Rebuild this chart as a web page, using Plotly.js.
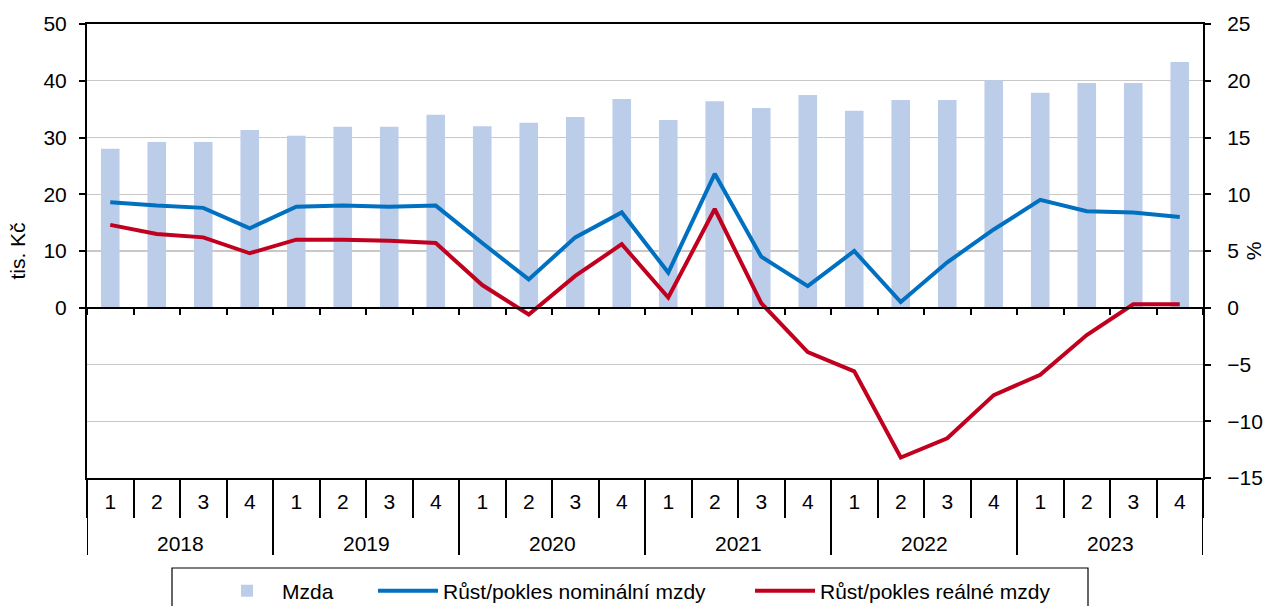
<!DOCTYPE html>
<html><head><meta charset="utf-8">
<script src="https://cdn.plot.ly/plotly-3.0.1.min.js"></script>
<style>html,body{margin:0;padding:0;background:#fff}#chart{width:1265px;height:606px}</style>
</head><body><div id="chart"></div>
<script>
const years = ['2018','2019','2020','2021','2022','2023'];
const quarters = ['1','2','3','4'];
const mzda = [28.0,29.2,29.2,31.3, 30.3,31.9,31.9,34.0, 32.0,32.6,33.6,36.8, 33.1,36.4,35.2,37.5, 34.7,36.6,36.6,40.1, 37.9,39.6,39.6,43.3];
const nominal = [9.3,9.0,8.8,7.0, 8.9,9.0,8.9,9.0, 5.7,2.5,6.2,8.4, 3.1,11.8,4.5,1.9, 5.0,0.5,4.0,6.9, 9.5,8.5,8.4,8.0];
const real = [7.3,6.5,6.2,4.8, 6.0,6.0,5.9,5.7, 2.0,-0.6,2.8,5.6, 0.9,8.7,0.4,-3.9, -5.6,-13.2,-11.5,-7.7, -5.9,-2.4,0.3,0.3];
const leftTicks = [0,10,20,30,40,50];

const keys = [], qLabels = [];
years.forEach(y => quarters.forEach(q => { keys.push(y + '-' + q); qLabels.push(q); }));

const font = {family:'"Liberation Sans", Arial, sans-serif', size:21, color:'#000'};

const L = 87, R = 1203, T = 24, B = 478;
const px = v => (v - L) / (R - L);
const py = v => (B - v) / (B - T);

const traces = [
  {type:'bar', x:keys, y:mzda, name:'Mzda', marker:{color:'#bccdea'}, xaxis:'x', yaxis:'y', legend:'legend'},
  {type:'scatter', mode:'lines', x:keys, y:nominal, name:'Růst/pokles nominální mzdy', line:{color:'#0070c0', width:4}, xaxis:'x2', yaxis:'y2', legend:'legend2'},
  {type:'scatter', mode:'lines', x:keys, y:real, name:'Růst/pokles reálné mzdy', line:{color:'#c0001e', width:4}, xaxis:'x2', yaxis:'y2', legend:'legend3'}
];

const nq = quarters.length;
const annotations = years.map((y, i) => ({
  xref:'x', yref:'paper', x:i*nq + (nq-1)/2, y:py(543), text:y, showarrow:false, font:font, xanchor:'center', yanchor:'middle'
}));
const shapes = [];
for (let i = 0; i <= years.length; i++) {
  shapes.push({type:'line', xref:'x', yref:'paper', x0:i*nq - 0.5, x1:i*nq - 0.5, y0:0, y1:py(555), line:{color:'#000', width:2}});
}
shapes.push({type:'rect', xref:'paper', yref:'paper', x0:px(172), x1:px(1088), y0:py(568), y1:py(640), line:{color:'#000', width:1.2}, fillcolor:'rgba(0,0,0,0)'});

const legBase = {orientation:'h', yanchor:'middle', y:py(591), xanchor:'left', font:font, bgcolor:'rgba(0,0,0,0)', borderwidth:0, itemwidth:60};

const layout = {
  width:1265, height:606,
  margin:{l:L, r:1265-R, t:T, b:606-B, pad:0, autoexpand:false},
  paper_bgcolor:'#fff', plot_bgcolor:'#fff',
  font:font,
  bargap:0.6,
  showlegend:true,
  legend:Object.assign({}, legBase, {x:px(212)}),
  legend2:Object.assign({}, legBase, {x:px(373)}),
  legend3:Object.assign({}, legBase, {x:px(750)}),
  xaxis:{type:'category', tickmode:'array', tickvals:keys, ticktext:qLabels,
         showline:true, linecolor:'#000', linewidth:2, mirror:true,
         ticks:'outside', tickson:'boundaries', ticklen:38, tickcolor:'#000', tickwidth:2, ticklabelstandoff:4,
         showgrid:false, zeroline:false, tickfont:font, range:[-0.5, keys.length-0.5]},
  xaxis2:{type:'category', overlaying:'x', anchor:'free', position:py(307.75), showline:true, linecolor:'#000', linewidth:2,
          tickmode:'array', tickvals:keys,
          ticks:'outside', tickson:'boundaries', ticklen:6, tickcolor:'#000', tickwidth:2, showticklabels:false,
          showgrid:false, zeroline:false, range:[-0.5, keys.length-0.5]},
  yaxis:{range:[-30,50], tickvals:leftTicks, showline:true, linecolor:'#000', linewidth:2, ticks:'outside', ticklen:6, tickwidth:2, tickcolor:'#000',
         ticklabelstandoff:8, showgrid:false, zeroline:false, tickfont:font, title:{text:'tis. Kč', font:font, standoff:12}},
  yaxis2:{range:[-15,25], dtick:5, overlaying:'y', side:'right', anchor:'x2', showline:true, linecolor:'#000', linewidth:2, ticks:'outside', ticklen:6, tickwidth:2, tickcolor:'#000',
          ticklabelstandoff:12, showgrid:true, gridcolor:'#c8c8c8', gridwidth:1.2, zeroline:false, tickfont:font, title:{text:'%', font:font, standoff:6}},
  annotations:annotations,
  shapes:shapes
};

Plotly.newPlot('chart', traces, layout, {displayModeBar:false, staticPlot:true});
</script></body></html>
